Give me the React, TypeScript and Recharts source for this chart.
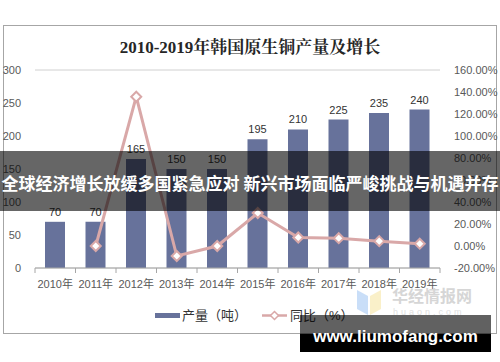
import React from 'react'
import { ComposedChart, Bar, Line, XAxis, YAxis, CartesianGrid, Legend, LabelList } from 'recharts'

const years = ['2010年', '2011年', '2012年', '2013年', '2014年', '2015年', '2016年', '2017年', '2018年', '2019年']
const output = [70, 70, 165, 150, 150, 195, 210, 225, 235, 240]
const growth = [null, 0, 135.7, -9.1, 0, 30, 7.7, 7.1, 4.4, 2.1]
const leftTicks = [0, 50, 100, 150, 200, 250, 300]
const rightTicks = [-20, 0, 20, 40, 60, 80, 100, 120, 140, 160]

const data = years.map((year, i) => ({ year, output: output[i], growth: growth[i] }))

const BAR = '#67729b'
const LINE = '#d9a8a8'
const TICK = '#595959'
const FONT = "'Liberation Sans', Arial, 'Noto Sans CJK SC', sans-serif"
const BAND = 40.5

const YearTick = (props: any) => {
  const { x, y, payload, index } = props
  return (
    <g>
      <line x1={x - BAND / 2} y1={y - 8} x2={x - BAND / 2} y2={y - 3} stroke="#a6a6a6" />
      {index === years.length - 1 && (
        <line x1={x + BAND / 2} y1={y - 8} x2={x + BAND / 2} y2={y - 3} stroke="#a6a6a6" />
      )}
      <text x={x} y={y + 12} textAnchor="middle" fill={TICK} fontSize={11} fontFamily={FONT}>
        {payload.value}
      </text>
    </g>
  )
}

const Diamond = (props: any) => {
  const { cx, cy, value } = props
  if (value == null || cx == null || cy == null) return <g />
  const r = 5
  return (
    <path
      d={`M${cx},${cy - r} L${cx + r},${cy} L${cx},${cy + r} L${cx - r},${cy} Z`}
      fill="#fff"
      stroke={LINE}
      strokeWidth={2}
    />
  )
}

const LegendContent = () => (
  <svg width={500} height={20}>
    <rect x={155} y={8} width={25} height={5} fill={BAR} />
    <text x={182} y={15} fontSize={13} fill="#333" fontFamily={FONT}>产量（吨）</text>
    <line x1={262} y1={10.5} x2={287} y2={10.5} stroke={LINE} strokeWidth={2.5} />
    <path d="M274.5,6.5 L278.5,10.5 L274.5,14.5 L270.5,10.5 Z" fill="#fff" stroke={LINE} strokeWidth={1.5} />
    <text x={290} y={15} fontSize={13} fill="#333" fontFamily={FONT}>同比（%）</text>
  </svg>
)

export default function App() {
  return (
    <div style={{ position: 'absolute', left: 0, top: 0, width: 500, height: 362, background: '#fff', overflow: 'hidden' }}>
      <div style={{ position: 'absolute', left: 3, top: 25, width: 492, height: 307, border: '1px solid #a6a6a6' }} />
      <div
        style={{
          position: 'absolute', left: 0, top: 33, width: 500, textAlign: 'center', fontSize: 17, fontWeight: 'bold',
          color: '#262626', fontFamily: "'Liberation Serif', 'Noto Serif CJK SC', 'Noto Sans CJK SC', serif",
        }}
      >
        2010-2019年韩国原生铜产量及增长
      </div>
      <div style={{ position: 'absolute', left: 0, top: 0 }}>
        <ComposedChart width={500} height={362} data={data} margin={{ top: 70, right: 0, left: 0, bottom: 64 }}>
          <CartesianGrid vertical={false} stroke="#d0d0d0" />
          <XAxis
            dataKey="year"
            height={30}
            axisLine={{ stroke: '#a6a6a6' }}
            tickLine={false}
            tick={<YearTick />}
            interval={0}
          />
          <YAxis
            yAxisId="left"
            width={35}
            domain={[0, 300]}
            ticks={leftTicks}
            axisLine={false}
            tickLine={false}
            tick={{ fill: TICK, fontSize: 11, fontFamily: FONT }}
            tickMargin={8}
          />
          <YAxis
            yAxisId="right"
            orientation="right"
            width={60}
            domain={[-20, 160]}
            ticks={rightTicks}
            axisLine={false}
            tickLine={false}
            tick={{ fill: TICK, fontSize: 11, fontFamily: FONT, textAnchor: 'start' }}
            tickMargin={8}
            tickFormatter={(v: number) => `${v.toFixed(2)}%`}
          />
          <Legend
            verticalAlign="middle"
            align="center"
            content={<LegendContent />}
            wrapperStyle={{ top: 305, left: 0, width: 500, height: 20 }}
          />
          <Bar yAxisId="left" dataKey="output" fill={BAR} barSize={20} isAnimationActive={false}>
            <LabelList dataKey="output" position="top" fill="#333" fontSize={11} fontFamily={FONT} offset={6} />
          </Bar>
          <Line
            yAxisId="right"
            dataKey="growth"
            type="linear"
            stroke={LINE}
            strokeWidth={3}
            dot={<Diamond />}
            activeDot={false}
            connectNulls={false}
            isAnimationActive={false}
          />
        </ComposedChart>
      </div>
      <svg style={{ position: 'absolute', left: 0, top: 0 }} width={500} height={362}>
        <g opacity={0.45}>
          <polygon points="357,290 368,296 368,315 357,309" fill="#8ab8f0" />
          <polygon points="370,296 381,290 381,309 370,315" fill="#f6df8a" />
        </g>
        <text x={392} y={302} fontSize={16} fontWeight="bold" fill="#d6d6d6" fontFamily="'Noto Sans CJK SC', sans-serif">华经情报网</text>
        <text x={393} y={315} fontSize={9} fill="#e0e0e0" fontFamily={FONT} letterSpacing={3}>huaon.com</text>
      </svg>
      <div style={{ position: 'absolute', left: 0, top: 151, width: 500, height: 60, background: 'rgba(0,0,0,0.6)' }} />
      <div
        style={{
          position: 'absolute', left: 0, top: 171, width: 500, textAlign: 'center', whiteSpace: 'nowrap',
          color: '#fff', fontSize: 17, fontWeight: 'bold', lineHeight: '24px', fontFamily: "'Noto Sans CJK SC', sans-serif",
        }}
      >
        全球经济增长放缓多国紧急应对 新兴市场面临严峻挑战与机遇并存
      </div>
      <div style={{ position: 'absolute', left: 300, top: 315, width: 191, height: 37, background: 'rgba(0,0,0,0.62)' }} />
      <div style={{ position: 'absolute', left: 300, top: 334, width: 191, height: 18, background: '#000' }} />
      <div
        style={{
          position: 'absolute', left: 300, top: 324, width: 191, textAlign: 'center', color: '#fff', fontSize: 17,
          fontWeight: 'bold', lineHeight: '26px', fontFamily: "'Liberation Sans', Arial, sans-serif", whiteSpace: 'nowrap',
        }}
      >
        www.liumofang.com
      </div>
    </div>
  )
}
